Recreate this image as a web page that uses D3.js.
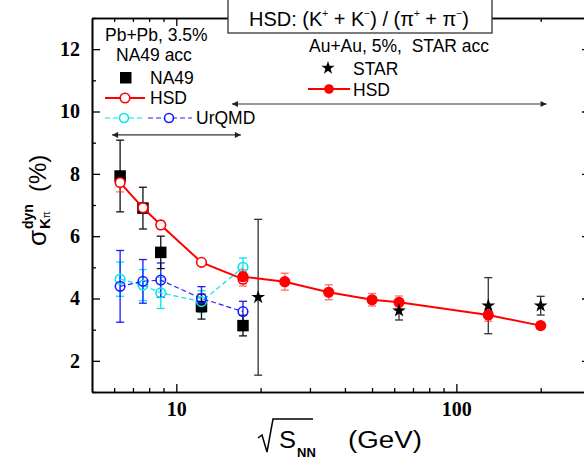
<!DOCTYPE html>
<html>
<head>
<meta charset="utf-8">
<script src="https://cdn.jsdelivr.net/npm/d3@7"></script>
<style>
  body { margin: 0; background: #fff; }
  svg { display: block; }
  .tick text { font-family: "Liberation Serif", "Times New Roman", serif; font-weight: bold; font-size: 20px; fill: #000; }
  .lbl { font-family: "Liberation Sans", Arial, sans-serif; fill: #000; }
</style>
</head>
<body>
<svg id="chart" width="584" height="463"></svg>
<script>
// data
const sqrtsNA49 = [6.3, 7.6, 8.8, 12.3, 17.3];
const na49Val = [7.93, 6.9, 5.48, 3.74, 3.13];
const na49Err = [1.15, 0.67, 0.52, 0.4, 0.33];
const hsdNa49Val = [7.72, 6.91, 6.36, 5.16, 4.62];
const hsdNa49Err = [0.3, 0.15, 0.12, 0.08, 0.22];
const urqmdCyanVal = [4.62, 4.43, 4.18, 3.9, 5.0];
const urqmdCyanErr = [0.55, 0.5, 0.5, 0.35, 0.3];
const urqmdBlueVal = [4.39, 4.55, 4.59, 4.0, 3.58];
const urqmdBlueErr = [1.15, 0.7, 0.55, 0.38, 0.33];

const sqrtsStar = [19.6, 62.4, 130, 200];
const starVal = [4.04, 3.61, 3.77, 3.77];
const starErr = [2.5, 0.3, 0.9, 0.3];

const sqrtsHsdStar = [17.3, 24.4, 35, 50, 62.4, 130, 200];
const hsdStarVal = [4.7, 4.54, 4.2, 3.96, 3.88, 3.47, 3.13];
const hsdStarErr = [0.22, 0.27, 0.24, 0.2, 0.2, 0.2, 0.12];

// acceptance ranges shown by the arrows: [xFrom, xTo, y]
const na49Range = [5.9, 17, 9.25];
const starRange = [15.8, 210, 10.24];

const yTicks = [2, 4, 6, 8, 10, 12];
const yMinor = [1, 3, 5, 7, 9, 11, 13];
const xTicks = [10, 100];
const xMinor = [6, 7, 8, 9, 20, 30, 40, 50, 60, 70, 80, 90, 200, 300];

const svg = d3.select("#chart");
const mLeft = 92, mRight = 590, mTop = 18, mBottom = 392;

const x = d3.scaleLog().domain([5, 300]).range([mLeft, mRight]);
const y = d3.scaleLinear().domain([1, 13]).range([mBottom, mTop]);

// axes (ticks point inward)
const axisG = svg.append("g");
axisG.append("g").attr("transform", `translate(${mLeft},0)`)
  .call(d3.axisLeft(y).tickValues(yTicks).tickSize(-8).tickSizeOuter(0).tickPadding(12));
axisG.append("g").attr("transform", `translate(${mLeft},0)`)
  .call(d3.axisLeft(y).tickValues(yMinor).tickSize(-4).tickSizeOuter(0).tickFormat(""));
axisG.append("g").attr("transform", `translate(${mRight},0)`)
  .call(d3.axisRight(y).tickValues(yTicks).tickSize(-8).tickSizeOuter(0).tickFormat(""));
axisG.append("g").attr("transform", `translate(${mRight},0)`)
  .call(d3.axisRight(y).tickValues(yMinor).tickSize(-4).tickSizeOuter(0).tickFormat(""));
axisG.append("g").attr("transform", `translate(0,${mBottom})`)
  .call(d3.axisBottom(x).tickValues(xTicks).tickSize(-8).tickSizeOuter(0).tickPadding(10).tickFormat(d3.format("d")));
axisG.append("g").attr("transform", `translate(0,${mBottom})`)
  .call(d3.axisBottom(x).tickValues(xMinor).tickSize(-4).tickSizeOuter(0).tickFormat(""));
axisG.append("g").attr("transform", `translate(0,${mTop})`)
  .call(d3.axisTop(x).tickValues(xTicks).tickSize(-8).tickSizeOuter(0).tickFormat(""));
axisG.append("g").attr("transform", `translate(0,${mTop})`)
  .call(d3.axisTop(x).tickValues(xMinor).tickSize(-4).tickSizeOuter(0).tickFormat(""));
axisG.selectAll(".domain").attr("stroke", "#000").attr("stroke-width", 1.6);
axisG.selectAll(".tick line").attr("stroke", "#000").attr("stroke-width", 1.3);

// helpers
const errorBars = (xs, vals, errs, color, opacity) => {
  const g = svg.append("g").attr("stroke", color).attr("stroke-width", 1.3).attr("opacity", opacity);
  xs.forEach((xv, i) => {
    const cx = x(xv), y0 = y(vals[i] - errs[i]), y1 = y(vals[i] + errs[i]);
    g.append("line").attr("x1", cx).attr("x2", cx).attr("y1", y0).attr("y2", y1);
    g.append("line").attr("x1", cx - 4).attr("x2", cx + 4).attr("y1", y0).attr("y2", y0);
    g.append("line").attr("x1", cx - 4).attr("x2", cx + 4).attr("y1", y1).attr("y2", y1);
  });
};
const curve = (xs, vals, color, dash, width) => {
  svg.append("path")
    .datum(xs.map((d, i) => [d, vals[i]]))
    .attr("fill", "none").attr("stroke", color).attr("stroke-width", width)
    .attr("stroke-dasharray", dash)
    .attr("d", d3.line().x(d => x(d[0])).y(d => y(d[1])));
};
const circles = (xs, vals, stroke, fill, r) => {
  svg.append("g").selectAll("circle")
    .data(xs.map((d, i) => [d, vals[i]]))
    .join("circle")
    .attr("cx", d => x(d[0])).attr("cy", d => y(d[1])).attr("r", r)
    .attr("fill", fill).attr("stroke", stroke).attr("stroke-width", 1.6);
};

// arrows
const defs = svg.append("defs");
["s", "e"].forEach(k => {
  defs.append("marker").attr("id", "arr-" + k)
    .attr("viewBox", "0 0 10 10").attr("refX", k === "e" ? 10 : 0).attr("refY", 5)
    .attr("markerWidth", 10).attr("markerHeight", 6).attr("markerUnits", "userSpaceOnUse")
    .attr("orient", "auto")
    .append("path").attr("d", k === "e" ? "M0,0L10,5L0,10Z" : "M10,0L0,5L10,10Z").attr("fill", "#222");
});
[na49Range, starRange].forEach(r => {
  svg.append("line")
    .attr("x1", x(r[0])).attr("x2", x(r[1])).attr("y1", y(r[2])).attr("y2", y(r[2]))
    .attr("stroke", "#333").attr("stroke-width", 1.1)
    .attr("marker-start", "url(#arr-s)").attr("marker-end", "url(#arr-e)");
});

// error bars
errorBars(sqrtsNA49, urqmdCyanVal, urqmdCyanErr, "#00e5ee", 1);
errorBars(sqrtsNA49, urqmdBlueVal, urqmdBlueErr, "#1a1aff", 1);
errorBars(sqrtsNA49, na49Val, na49Err, "#111", 1);
errorBars(sqrtsStar, starVal, starErr, "#333", 1);
errorBars(sqrtsNA49, hsdNa49Val, hsdNa49Err, "#ff3030", 0.7);
errorBars(sqrtsHsdStar, hsdStarVal, hsdStarErr, "#ff3030", 0.7);

// lines
curve(sqrtsNA49, urqmdCyanVal, "#00e5ee", "5,3", 1.2);
curve(sqrtsNA49, urqmdBlueVal, "#2020ff", "5,3", 1.2);

// NA49 squares
svg.append("g").selectAll("rect")
  .data(sqrtsNA49.map((d, i) => [d, na49Val[i]]))
  .join("rect")
  .attr("x", d => x(d[0]) - 5.75).attr("y", d => y(d[1]) - 5.75)
  .attr("width", 11.5).attr("height", 11.5).attr("fill", "#000");

curve(sqrtsNA49, hsdNa49Val, "#ff0000", null, 2);
curve(sqrtsHsdStar, hsdStarVal, "#ff0000", null, 2);

circles(sqrtsNA49, urqmdCyanVal, "#00e5ee", "none", 4.8);
circles(sqrtsNA49, urqmdBlueVal, "#1a1aff", "none", 4.8);
circles(sqrtsNA49, hsdNa49Val, "#ff0000", "#fff", 4.8);
circles(sqrtsHsdStar, hsdStarVal, "#ff0000", "#ff0000", 4.8);

// STAR stars
svg.append("g").selectAll("path")
  .data(sqrtsStar.map((d, i) => [d, starVal[i]]))
  .join("path")
  .attr("transform", d => `translate(${x(d[0])},${y(d[1])})`)
  .attr("d", d3.symbol().type(d3.symbolStar).size(60))
  .attr("fill", "#000");

// legends
const lg = svg.append("g").attr("class", "lbl").attr("font-size", 17.5);
lg.append("text").attr("x", 105).attr("y", 41).text("Pb+Pb, 3.5%");
lg.append("text").attr("x", 116).attr("y", 61).text("NA49 acc");
lg.append("rect").attr("x", 120).attr("y", 72).attr("width", 11.5).attr("height", 11.5).attr("fill", "#000");
lg.append("text").attr("x", 150).attr("y", 84).text("NA49");
lg.append("line").attr("x1", 105).attr("x2", 145).attr("y1", 98).attr("y2", 98).attr("stroke", "#f00").attr("stroke-width", 2);
lg.append("circle").attr("cx", 125).attr("cy", 98).attr("r", 4.8).attr("fill", "#fff").attr("stroke", "#f00").attr("stroke-width", 1.6);
lg.append("text").attr("x", 150).attr("y", 104).text("HSD");
lg.append("line").attr("x1", 105).attr("x2", 145).attr("y1", 118).attr("y2", 118).attr("stroke", "#00e5ee").attr("stroke-width", 1.2).attr("stroke-dasharray", "5,3");
lg.append("line").attr("x1", 148).attr("x2", 192).attr("y1", 118).attr("y2", 118).attr("stroke", "#2020ff").attr("stroke-width", 1.2).attr("stroke-dasharray", "5,3");
lg.append("circle").attr("cx", 124).attr("cy", 118).attr("r", 4.5).attr("fill", "#fff").attr("stroke", "#00e5ee").attr("stroke-width", 1.6);
lg.append("circle").attr("cx", 169).attr("cy", 118).attr("r", 4.5).attr("fill", "#fff").attr("stroke", "#1a1aff").attr("stroke-width", 1.6);
lg.append("text").attr("x", 196).attr("y", 124).text("UrQMD");

lg.append("text").attr("x", 309).attr("y", 52).text("Au+Au, 5%,  STAR acc").attr("xml:space", "preserve");
lg.append("path").attr("transform", "translate(328,68)").attr("d", d3.symbol().type(d3.symbolStar).size(55)).attr("fill", "#000");
lg.append("text").attr("x", 353).attr("y", 75).text("STAR");
lg.append("line").attr("x1", 308).attr("x2", 350).attr("y1", 89).attr("y2", 89).attr("stroke", "#f00").attr("stroke-width", 2);
lg.append("circle").attr("cx", 329).attr("cy", 89).attr("r", 4.8).attr("fill", "#f00");
lg.append("text").attr("x", 353).attr("y", 96).text("HSD");

// title box
svg.append("rect").attr("x", 228).attr("y", -2).attr("width", 264).attr("height", 35)
  .attr("fill", "#fff").attr("stroke", "#333").attr("stroke-width", 1.3);
const tt = svg.append("text").attr("class", "lbl").attr("x", 249).attr("y", 26).attr("font-size", 20).attr("xml:space", "preserve");
const sup = (s) => tt.append("tspan").attr("font-size", 10).attr("dy", -9).text(s);
const base = (s) => tt.append("tspan").attr("font-size", 20).attr("dy", 9).text(s);
tt.append("tspan").text("HSD: (K");
sup("+"); base(" + K");
sup("\u2212"); base(") / (\u03c0");
sup("+"); base(" + \u03c0");
sup("\u2212"); base(")");

// y axis title
const yl = svg.append("g").attr("class", "lbl").attr("transform", "translate(46,246) rotate(-90)");
yl.append("text").attr("x", 0).attr("y", 0).attr("font-size", 26).text("\u03c3");
yl.append("text").attr("x", 17).attr("y", -13).attr("font-size", 14).attr("font-weight", "bold").text("dyn");
yl.append("text").attr("x", 17).attr("y", 4).attr("font-size", 15).attr("font-weight", "bold").text("K")
  .append("tspan").attr("font-size", 10).attr("font-weight", "normal").text("\u03c0");
yl.append("text").attr("x", 54).attr("y", 0).attr("font-size", 24).text("(%)");

// x axis title
const xl = svg.append("g").attr("class", "lbl");
xl.append("path").attr("d", "M258,438 L262,435 L267,452 L273,419 L313,419")
  .attr("fill", "none").attr("stroke", "#000").attr("stroke-width", 1.5);
xl.append("text").attr("x", 279).attr("y", 448).attr("font-size", 23)
  .attr("textLength", 17).attr("lengthAdjust", "spacingAndGlyphs").text("S");
xl.append("text").attr("x", 297).attr("y", 457).attr("font-size", 13).attr("font-weight", "bold").text("NN");
xl.append("text").attr("x", 348).attr("y", 448).attr("font-size", 23)
  .attr("textLength", 74).attr("lengthAdjust", "spacingAndGlyphs").text("(GeV)");
</script>
</body>
</html>
